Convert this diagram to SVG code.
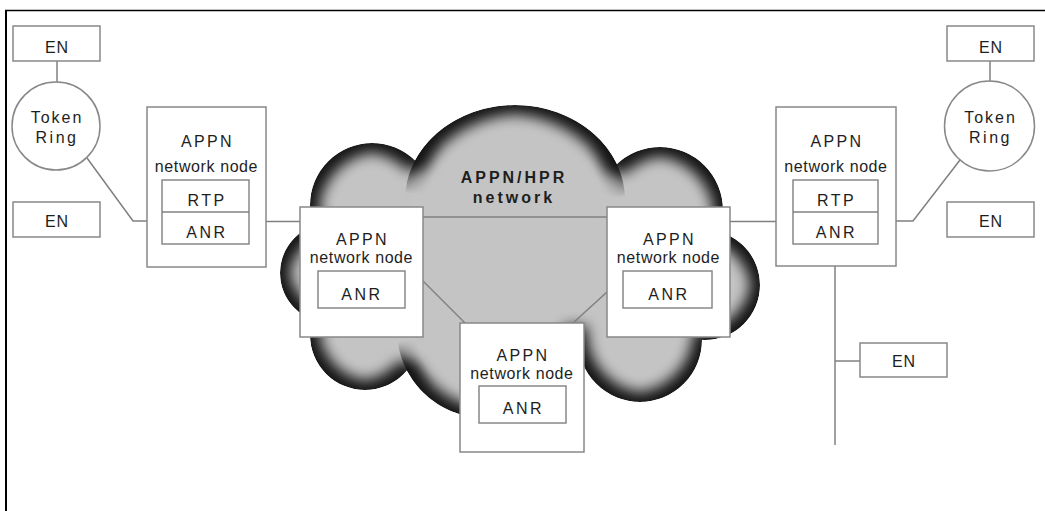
<svg xmlns="http://www.w3.org/2000/svg" width="1045" height="511" viewBox="0 0 1045 511">
<defs>
<clipPath id="cloudClip">
<circle cx="372" cy="205" r="62"/>
<ellipse cx="515" cy="200" rx="110" ry="95"/>
<circle cx="660" cy="210" r="63"/>
<circle cx="705" cy="285" r="55"/>
<circle cx="640" cy="340" r="62"/>
<circle cx="485" cy="330" r="88"/>
<circle cx="365" cy="335" r="55"/>
<circle cx="330" cy="273" r="50"/>
<polygon points="380,215 660,215 700,290 630,335 400,335 340,290"/>
</clipPath>
<g id="cloudShape">
<circle cx="372" cy="205" r="62"/>
<ellipse cx="515" cy="200" rx="110" ry="95"/>
<circle cx="660" cy="210" r="63"/>
<circle cx="705" cy="285" r="55"/>
<circle cx="640" cy="340" r="62"/>
<circle cx="485" cy="330" r="88"/>
<circle cx="365" cy="335" r="55"/>
<circle cx="330" cy="273" r="50"/>
<polygon points="380,215 660,215 700,290 630,335 400,335 340,290"/>
</g>
<filter id="inner" x="-10%" y="-10%" width="120%" height="120%">
<feMorphology operator="erode" radius="9"/>
<feGaussianBlur stdDeviation="7"/>
</filter>
<radialGradient id="ring" cx="0.5" cy="0.5" r="0.5">
<stop offset="0.78" stop-color="#141414" stop-opacity="0"/>
<stop offset="0.92" stop-color="#141414" stop-opacity="0.55"/>
<stop offset="1" stop-color="#141414" stop-opacity="0.95"/>
</radialGradient>
<radialGradient id="fade" cx="0.5" cy="0.5" r="0.5">
<stop offset="0" stop-color="#fff"/>
<stop offset="1" stop-color="#000"/>
</radialGradient>
<mask id="m1" maskUnits="userSpaceOnUse" x="0" y="0" width="1045" height="511"><circle cx="414" cy="160" r="34" fill="url(#fade)"/></mask>
<mask id="m2" maskUnits="userSpaceOnUse" x="0" y="0" width="1045" height="511"><circle cx="617" cy="164" r="34" fill="url(#fade)"/></mask>
<mask id="m3" maskUnits="userSpaceOnUse" x="0" y="0" width="1045" height="511"><circle cx="409" cy="370" r="30" fill="url(#fade)"/></mask>
</defs>
<style>
.box{fill:#ffffff;stroke:#888888;stroke-width:1.5}
.ln{fill:none;stroke:#808080;stroke-width:1.5}
.t{font-family:"Liberation Sans",Arial,sans-serif;font-size:16px;fill:#1e1e1e;text-anchor:middle}
.sp{letter-spacing:2.5px}
.nn{letter-spacing:0.6px}
.cl{font-weight:bold;letter-spacing:3px}
</style>
<rect width="1045" height="511" fill="#ffffff"/>
<g id="frame">
<line x1="5" y1="10.5" x2="1045" y2="10.5" stroke="#000" stroke-width="1.5"/>
<line x1="6" y1="10" x2="6" y2="511" stroke="#000" stroke-width="2"/>
</g>
<g id="cloud">
<g clip-path="url(#cloudClip)">
<use href="#cloudShape" fill="#141414"/>
<use href="#cloudShape" fill="#c4c4c4" filter="url(#inner)"/>
<ellipse cx="515" cy="200" rx="110" ry="95" fill="url(#ring)" mask="url(#m1)"/>
<ellipse cx="515" cy="200" rx="110" ry="95" fill="url(#ring)" mask="url(#m2)"/>
<circle cx="485" cy="330" r="88" fill="url(#ring)" mask="url(#m3)"/>
</g>
<text class="t cl" x="514" y="183">APPN/HPR</text>
<text class="t cl" x="514" y="203">network</text>
</g>
<g id="connectors">
<line class="ln" x1="57" y1="61" x2="57" y2="82"/>
<polyline class="ln" points="87,158 133,221 147,221"/>
<line class="ln" x1="266" y1="221.5" x2="300" y2="221.5"/>
<line class="ln" x1="423" y1="217" x2="607" y2="217"/>
<line class="ln" x1="423" y1="281" x2="465" y2="323"/>
<line class="ln" x1="607" y1="292" x2="573" y2="323"/>
<line class="ln" x1="730" y1="221.5" x2="776" y2="221.5"/>
<polyline class="ln" points="896,221 913,221 960,160"/>
<line class="ln" x1="990" y1="61" x2="990" y2="82"/>
<line class="ln" x1="835" y1="266" x2="835" y2="445"/>
<line class="ln" x1="835" y1="361" x2="860" y2="361"/>
</g>
<g id="en-tl">
<rect class="box" x="13" y="26" width="87" height="35"/>
<text class="t" x="57" y="53" style="letter-spacing:1px">EN</text>
</g>
<g id="ring-l">
<circle class="box" cx="56" cy="126" r="44"/>
<text class="t" x="57" y="123" style="letter-spacing:2px">Token</text>
<text class="t" x="57" y="143" style="letter-spacing:2.5px">Ring</text>
</g>
<g id="en-ml">
<rect class="box" x="13" y="202" width="87" height="35"/>
<text class="t" x="57" y="227" style="letter-spacing:1px">EN</text>
</g>
<g id="nn-left">
<rect class="box" x="147" y="107" width="119" height="160"/>
<text class="t" x="207.5" y="147" style="letter-spacing:2.3px">APPN</text>
<text class="t nn" x="206.5" y="172">network node</text>
<rect class="box" x="162" y="180" width="87" height="64"/>
<line class="ln" x1="162" y1="212" x2="249" y2="212"/>
<text class="t sp" x="207" y="206">RTP</text>
<text class="t sp" x="207" y="238">ANR</text>
</g>
<g id="nn-mid-left">
<rect class="box" x="300" y="207" width="123" height="130"/>
<text class="t" x="362.5" y="245" style="letter-spacing:2.3px">APPN</text>
<text class="t nn" x="361.5" y="263">network node</text>
<rect class="box" x="318" y="271" width="87" height="37"/>
<text class="t sp" x="362" y="300">ANR</text>
</g>
<g id="nn-mid-right">
<rect class="box" x="607" y="207" width="123" height="130"/>
<text class="t" x="669.5" y="245" style="letter-spacing:2.3px">APPN</text>
<text class="t nn" x="668.5" y="263">network node</text>
<rect class="box" x="623" y="271" width="89" height="37"/>
<text class="t sp" x="669" y="300">ANR</text>
</g>
<g id="nn-bottom">
<rect class="box" x="460" y="323" width="124" height="129"/>
<text class="t" x="523" y="361" style="letter-spacing:2.3px">APPN</text>
<text class="t nn" x="522" y="379">network node</text>
<rect class="box" x="479" y="386" width="87" height="37"/>
<text class="t sp" x="523.5" y="414">ANR</text>
</g>
<g id="nn-right">
<rect class="box" x="776" y="107" width="120" height="159"/>
<text class="t" x="837" y="147" style="letter-spacing:2.3px">APPN</text>
<text class="t nn" x="836" y="172">network node</text>
<rect class="box" x="793" y="180" width="85" height="64"/>
<line class="ln" x1="793" y1="212" x2="878" y2="212"/>
<text class="t sp" x="836.5" y="206">RTP</text>
<text class="t sp" x="836.5" y="238">ANR</text>
</g>
<g id="en-tr">
<rect class="box" x="947" y="26" width="87" height="35"/>
<text class="t" x="991" y="53" style="letter-spacing:1px">EN</text>
</g>
<g id="ring-r">
<circle class="box" cx="989.5" cy="126" r="45"/>
<text class="t" x="990.5" y="123" style="letter-spacing:2px">Token</text>
<text class="t" x="990.5" y="143" style="letter-spacing:2.5px">Ring</text>
</g>
<g id="en-mr">
<rect class="box" x="947" y="202" width="87" height="35"/>
<text class="t" x="991" y="227" style="letter-spacing:1px">EN</text>
</g>
<g id="en-br">
<rect class="box" x="860" y="343" width="87" height="34"/>
<text class="t" x="904" y="367" style="letter-spacing:1px">EN</text>
</g>
</svg>
